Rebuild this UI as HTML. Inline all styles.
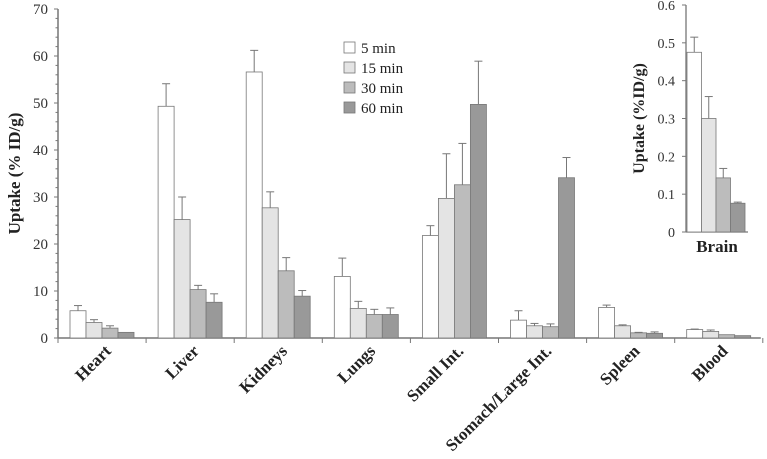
<!DOCTYPE html>
<html><head><meta charset="utf-8"><style>
body{margin:0;background:#fff;}
svg, svg text{font-family:"Liberation Serif","Times New Roman",Times,serif;}
svg{display:block;}
</style></head><body>
<svg id="c" width="767" height="459" viewBox="0 0 767 459"></svg>
<script>
const categories=["Heart","Liver","Kidneys","Lungs","Small Int.","Stomach/Large Int.","Spleen","Blood"];
const seriesNames=["5 min","15 min","30 min","60 min"];
const v5=[5.8,49.3,56.6,13.1,21.8,3.8,6.5,1.8];
const v15=[3.3,25.2,27.7,6.3,29.7,2.6,2.6,1.4];
const v30=[2.1,10.3,14.3,5.0,32.6,2.4,1.1,0.7];
const v60=[1.2,7.6,8.9,5.0,49.7,34.1,1.0,0.5];
const e5=[1.1,4.8,4.6,3.9,2.1,2.0,0.5,0.1];
const e15=[0.6,4.8,3.4,1.5,9.5,0.5,0.2,0.3];
const e30=[0.5,0.9,2.8,1.1,8.8,0.6,0.1,0];
const e60=[0,1.8,1.2,1.4,9.2,4.3,0.3,0];
const brainVals=[0.475,0.30,0.143,0.076];
const brainErr=[0.04,0.058,0.025,0.003];
const yTicks=[0,10,20,30,40,50,60,70];
const insetTicks=[0,0.1,0.2,0.3,0.4,0.5,0.6];
const fills=["#ffffff","#e4e4e4","#bcbcbc","#999999"];

const svg=document.getElementById('c');
const NS="http://www.w3.org/2000/svg";
const FF='Liberation Serif, serif';
function mk(tag,attrs,parent){const e=document.createElementNS(NS,tag);for(const k in attrs)e.setAttribute(k,attrs[k]);if(tag==='text')e.setAttribute('font-family',FF);(parent||svg).appendChild(e);return e;}
const X0=58,GW=88.1,Y0=338,YT=9,YMAX=70;
const y=v=>Y0-(v/YMAX)*(Y0-YT);
const gx=i=>X0+i*GW;
const BW=16,OFF=12;
const vals=[v5,v15,v30,v60],errs=[e5,e15,e30,e60];

const ya=mk('line',{x1:X0,y1:YT,x2:X0,y2:Y0,stroke:'#777','stroke-width':1.5});

const xa=mk('line',{x1:X0,y1:Y0,x2:X0+categories.length*GW-2,y2:Y0,stroke:'#777','stroke-width':1.5});

for(let t=0;t<=YMAX;t+=2){mk('line',{x1:X0-(t%10===0?4:2.5),y1:y(t),x2:X0,y2:y(t),stroke:'#777','stroke-width':1});}
yTicks.forEach(t=>{const tx=mk('text',{x:X0-10,y:y(t)+5,'text-anchor':'end','font-size':15,fill:'#333'});tx.textContent=t;
});
for(let i=0;i<=categories.length;i++){mk('line',{x1:gx(i),y1:Y0,x2:gx(i),y2:Y0+5,stroke:'#777','stroke-width':1});}
const yt=mk('text',{transform:`translate(20,${(YT+Y0)/2}) rotate(-90)`,'text-anchor':'middle','font-size':17,'font-weight':'bold',fill:'#222'});
yt.textContent="Uptake (% ID/g)";

categories.forEach((c,i)=>{
  vals.forEach((arr,s)=>{
    const x=gx(i)+OFF+s*BW;
    const top=y(arr[i]);
    const eTop=y(arr[i]+errs[s][i]);
    if(errs[s][i]>0){
    const el=mk('line',{x1:x+BW/2,y1:top,x2:x+BW/2,y2:eTop,stroke:'#777','stroke-width':1});
    
    mk('line',{x1:x+BW/2-4,y1:eTop,x2:x+BW/2+4,y2:eTop,stroke:'#777','stroke-width':1});}
    const r=mk('rect',{x:x,y:top,width:BW,height:Y0-top,fill:fills[s],stroke:'#777','stroke-width':0.8});
    
    
  });
  const cx=gx(i)+GW/2+10;
  const lt=mk('text',{transform:`translate(${cx},352) rotate(-45)`,'text-anchor':'end','font-size':17,'font-weight':'bold',fill:'#222'});
  lt.textContent=c;
});

seriesNames.forEach((n,s)=>{
  const ly=42+s*20;
  const b=mk('rect',{x:344,y:ly,width:11,height:11,fill:fills[s],stroke:'#777','stroke-width':0.8});
  
  const t=mk('text',{x:361,y:ly+11,'font-size':15,fill:'#222'});t.textContent=n;
  
});

const IX=686,IY0=232,IYT=5,IMAX=0.6;
const iy=v=>IY0-(v/IMAX)*(IY0-IYT);
const ia=mk('line',{x1:IX,y1:IYT,x2:IX,y2:IY0,stroke:'#777','stroke-width':1.3});

mk('line',{x1:IX,y1:IY0,x2:748,y2:IY0,stroke:'#777','stroke-width':1.3});
insetTicks.forEach(t=>{mk('line',{x1:IX-4,y1:iy(t),x2:IX,y2:iy(t),stroke:'#777','stroke-width':1});
const tx=mk('text',{x:IX-11,y:iy(t)+5,'text-anchor':'end','font-size':14,fill:'#333'});tx.textContent=t===0?'0':t.toFixed(1);
});
brainVals.forEach((v,s)=>{
  const x=IX+1+s*14.5,w=14.5,top=iy(v),et=iy(v+brainErr[s]);
  mk('line',{x1:x+w/2,y1:top,x2:x+w/2,y2:et,stroke:'#777','stroke-width':1});
  mk('line',{x1:x+w/2-4,y1:et,x2:x+w/2+4,y2:et,stroke:'#777','stroke-width':1});
  const r=mk('rect',{x:x,y:top,width:w,height:IY0-top,fill:fills[s],stroke:'#777','stroke-width':0.8});
  
});
const bt=mk('text',{x:717,y:252,'text-anchor':'middle','font-size':17,'font-weight':'bold',fill:'#222'});
bt.textContent="Brain";
const it=mk('text',{transform:`translate(644,${(IYT+IY0)/2}) rotate(-90)`,'text-anchor':'middle','font-size':16,'font-weight':'bold',fill:'#222'});
it.textContent="Uptake (%ID/g)";
</script>
</body></html>
